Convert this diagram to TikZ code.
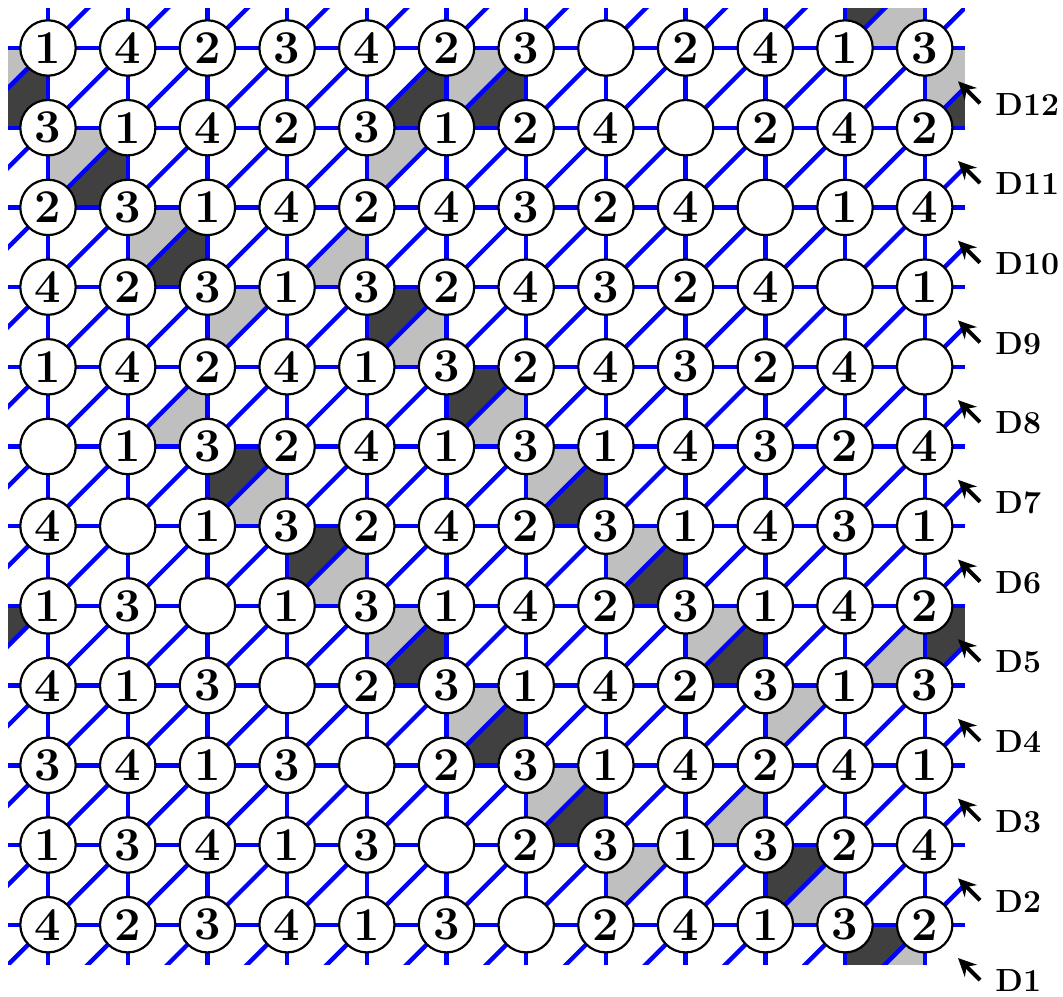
\documentclass[tikz,border=0pt]{standalone}
\usetikzlibrary{arrows.meta}
\definecolor{lightshade}{RGB}{191,191,191}
\definecolor{darkshade}{RGB}{64,64,64}
\definecolor{gridblue}{RGB}{0,0,255}
\begin{document}
\begin{tikzpicture}[x=0.5pt,y=-0.5pt,
  gridline/.style={gridblue, line width=2.2pt},
  cnode/.style={circle, draw=black, fill=white, line width=1.1pt, minimum size=27.7pt, inner sep=0pt, font=\fontsize{23.5}{23.5}\selectfont\bfseries},
  dlabel/.style={anchor=west, inner sep=0pt, font=\fontsize{16}{16}\selectfont\bfseries},
  darrow/.style={black, line width=2pt, -{Stealth[length=9pt,width=8.5pt]}}]
\useasboundingbox (0,0) rectangle (1063,996);
\def\gs{79.7}
\def\go{48}
\def\glo{8.15}
\def\ghi{964.85}
% lattice points
\foreach \r in {1,...,12}{
  \foreach \c in {1,...,12}{
    \coordinate (p-\r-\c) at ({\go+\gs*(\c-1)},{\go+\gs*(\r-1)});
  }
}
\begin{scope}
\clip (\glo,\glo) rectangle (\ghi,\ghi);
% shaded triangles: row/col of the cell's upper-left centre, U = upper-left half, L = lower-right half
\foreach \r/\c/\tp/\col in {
  0/11/U/darkshade, 0/11/L/lightshade,
  12/11/U/darkshade, 12/11/L/lightshade,
  1/0/U/lightshade, 1/0/L/darkshade,
  1/12/U/lightshade, 1/12/L/darkshade,
  1/5/L/darkshade,
  1/6/U/lightshade, 1/6/L/darkshade,
  2/1/U/lightshade, 2/1/L/darkshade,
  2/5/U/lightshade,
  3/2/U/lightshade, 3/2/L/darkshade,
  3/4/L/lightshade,
  4/3/U/lightshade,
  4/5/U/darkshade, 4/5/L/lightshade,
  5/2/L/lightshade,
  5/6/U/darkshade, 5/6/L/lightshade,
  6/3/U/darkshade, 6/3/L/lightshade,
  6/7/U/lightshade, 6/7/L/darkshade,
  7/4/U/darkshade, 7/4/L/lightshade,
  7/8/U/lightshade, 7/8/L/darkshade,
  8/0/U/darkshade, 8/12/U/darkshade,
  8/5/U/lightshade, 8/5/L/darkshade,
  8/9/U/lightshade, 8/9/L/darkshade,
  8/11/L/lightshade,
  9/6/U/lightshade, 9/6/L/darkshade,
  9/10/U/lightshade,
  10/7/U/lightshade, 10/7/L/darkshade,
  10/9/L/lightshade,
  11/8/U/lightshade,
  11/10/U/darkshade, 11/10/L/lightshade}{
  \pgfmathsetmacro\xa{\go+\gs*(\c-1)}
  \pgfmathsetmacro\xb{\go+\gs*\c}
  \pgfmathsetmacro\ya{\go+\gs*(\r-1)}
  \pgfmathsetmacro\yb{\go+\gs*\r}
  \if\tp U
    \fill[\col] (\xa,\ya) -- (\xb,\ya) -- (\xa,\yb) -- cycle;
  \else
    \fill[\col] (\xb,\ya) -- (\xb,\yb) -- (\xa,\yb) -- cycle;
  \fi
}
% grid lines
\foreach \i in {1,...,12}{
  \draw[gridline] ([xshift=-25pt]p-\i-1) -- ([xshift=25pt]p-\i-12);
  \draw[gridline] ([yshift=25pt]p-1-\i) -- ([yshift=-25pt]p-12-\i);
}
% diagonals
\foreach \k in {0,...,22}{
  \pgfmathsetmacro\sm{96+\gs*\k}
  \draw[gridline] ({\sm-1100},1100) -- ({\sm+100},-100);
}
\end{scope}
% circles with numbers
\foreach \row [count=\r] in {
  {1,4,2,3,4,2,3,0,2,4,1,3},
  {3,1,4,2,3,1,2,4,0,2,4,2},
  {2,3,1,4,2,4,3,2,4,0,1,4},
  {4,2,3,1,3,2,4,3,2,4,0,1},
  {1,4,2,4,1,3,2,4,3,2,4,0},
  {0,1,3,2,4,1,3,1,4,3,2,4},
  {4,0,1,3,2,4,2,3,1,4,3,1},
  {1,3,0,1,3,1,4,2,3,1,4,2},
  {4,1,3,0,2,3,1,4,2,3,1,3},
  {3,4,1,3,0,2,3,1,4,2,4,1},
  {1,3,4,1,3,0,2,3,1,3,2,4},
  {4,2,3,4,1,3,0,2,4,1,3,2}}{
  \foreach \v [count=\c] in \row {
    \node[cnode] (n-\r-\c) at (p-\r-\c) {\ifnum\v=0 \else\v\fi};
  }
}
% diagonal labels
\foreach \k in {1,...,12}{
  \pgfmathsetmacro\dy{\gs*(\k-1)}
  \coordinate (t\k) at (958,{958-\dy});
  \node[dlabel] (d\k) at (995,{981-\dy}) {D\k};
  \draw[darrow] ([xshift=-7.5pt,yshift=0.5pt]d\k.west) -- (t\k);
}
\end{tikzpicture}
\end{document}
